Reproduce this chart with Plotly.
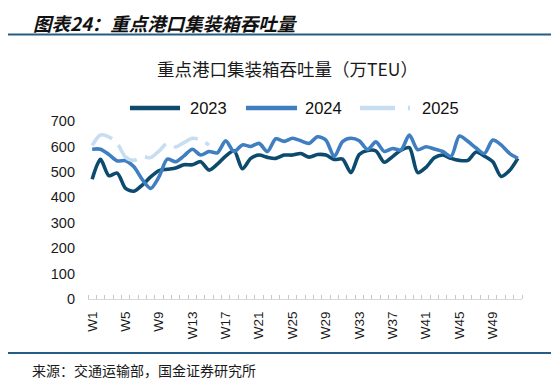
import plotly.graph_objects as go

weeks = [f"W{i}" for i in range(1, 53)]

y2023 = [471, 549, 485, 495, 435, 424, 448, 480, 505, 510, 515, 528, 528, 540, 507, 530,
         562, 583, 512, 553, 566, 557, 553, 566, 566, 572, 558, 568, 566, 549, 550, 497,
         568, 584, 582, 538, 560, 585, 595, 497, 518, 555, 566, 553, 545, 545, 578, 562,
         540, 482, 505, 553]
y2024 = [589, 589, 568, 543, 544, 520, 470, 435, 480, 550, 540, 563, 589, 566, 580, 575,
         622, 580, 606, 600, 612, 580, 630, 620, 632, 622, 612, 638, 625, 560, 619, 632,
         622, 588, 618, 580, 592, 586, 645, 587, 599, 590, 580, 561, 641, 620, 594, 572,
         625, 606, 573, 553]
y2025 = [604, 645, 638, 612, 558, 545, 560, 556, 582, 612, 598, 615, 632, 626, 605]

series_names = ["2023", "2024", "2025"]
colors = ["#0c4a6e", "#3f7fc1", "#c7ddf1"]
dashes = ["solid", "solid", "26px,9px"]

OFF = 8  # page body margin
W, H = 559 - OFF, 385 - OFF
L = 88 - OFF
T = 121 - OFF
R = W - (522 - OFF)
B = H - (299 - OFF)
PW, PH = W - L - R, H - T - B


def px(x):
    return (x - OFF - L) / PW


def py(y):
    return (H - B - (y - OFF)) / PH


fig = go.Figure()
for name, vals, c, d in zip(series_names, [y2023, y2024, y2025], colors, dashes):
    xs = list(range(1, len(vals) + 1))
    fig.add_trace(go.Scatter(
        x=xs, y=vals, name=name, mode="lines",
        line=dict(color=c, width=3.6, dash=d, shape="spline", smoothing=0.8),
        showlegend=False, hoverinfo="skip"))

tickvals = list(range(1, len(weeks) + 1, 4))
ticktext = [weeks[i - 1] for i in tickvals]

fig.update_layout(
    width=W, height=H,
    margin=dict(l=L, r=R, t=T, b=B, pad=0),
    paper_bgcolor="white", plot_bgcolor="white",
    font=dict(family="Liberation Sans, Arial, sans-serif", color="#1a1a1a", size=14),
    xaxis=dict(
        range=[0.5, len(weeks) + 0.5], tickmode="array", tickvals=tickvals, ticktext=ticktext,
        tickangle=-90, ticks="", showgrid=False, zeroline=False,
        showline=True, linecolor="#d9d9d9", linewidth=1.2,
        tickfont=dict(size=13.5, color="#1a1a1a"), ticklabelstandoff=6,
        minor=dict(ticks="inside", tick0=0.5, dtick=1, ticklen=4, tickcolor="#c8c8c8",
                   tickwidth=1, showgrid=False),
    ),
    yaxis=dict(
        range=[0, 700], dtick=100, tick0=0, showgrid=False, zeroline=False, showline=False,
        ticks="", tickfont=dict(size=14.5, color="#1a1a1a"), ticklabelstandoff=12,
    ),
)

shapes = []
annotations = []

# header line and footer line
shapes.append(dict(type="line", xref="paper", yref="paper", x0=px(8), x1=px(553),
                   y0=py(34.5), y1=py(34.5), line=dict(color="#245d86", width=2)))
shapes.append(dict(type="line", xref="paper", yref="paper", x0=px(8), x1=px(553),
                   y0=py(353), y1=py(353), line=dict(color="#245d86", width=2)))

annotations.append(dict(xref="paper", yref="paper", x=px(31), y=py(8.5), xanchor="left",
                        yanchor="top", showarrow=False,
                        text="<b><i>图表24：重点港口集装箱吞吐量</i></b>",
                        font=dict(family="Noto Sans CJK SC", size=18.5, color="#111111")))
annotations.append(dict(xref="paper", yref="paper", x=px(287), y=py(68), xanchor="center",
                        yanchor="middle", showarrow=False,
                        text="重点港口集装箱吞吐量（万TEU）",
                        font=dict(family="Noto Sans CJK SC", size=17.5, color="#1a1a1a")))
annotations.append(dict(xref="paper", yref="paper", x=px(30), y=py(370), xanchor="left",
                        yanchor="middle", showarrow=False,
                        text="来源：交通运输部，国金证券研究所",
                        font=dict(family="Noto Sans CJK SC", size=14, color="#1a1a1a")))

# custom legend
leg_y = py(108)
leg_items = [(130, 180, 188), (246, 297, 303), (360, 410, 420)]
leg_dash = ["solid", "solid", "35px,13px"]
for (x0, x1, tx), name, c, d in zip(leg_items, series_names, colors, leg_dash):
    shapes.append(dict(type="line", xref="paper", yref="paper", x0=px(x0), x1=px(x1),
                       y0=leg_y, y1=leg_y, line=dict(color=c, width=4.5, dash=d)))
    annotations.append(dict(xref="paper", yref="paper", x=px(tx), y=leg_y, xanchor="left",
                            yanchor="middle", showarrow=False, text=name,
                            font=dict(family="Liberation Sans, Arial", size=16.5,
                                      color="#111111")))

fig.update_layout(shapes=shapes, annotations=annotations)
fig.write_html("out.html")
